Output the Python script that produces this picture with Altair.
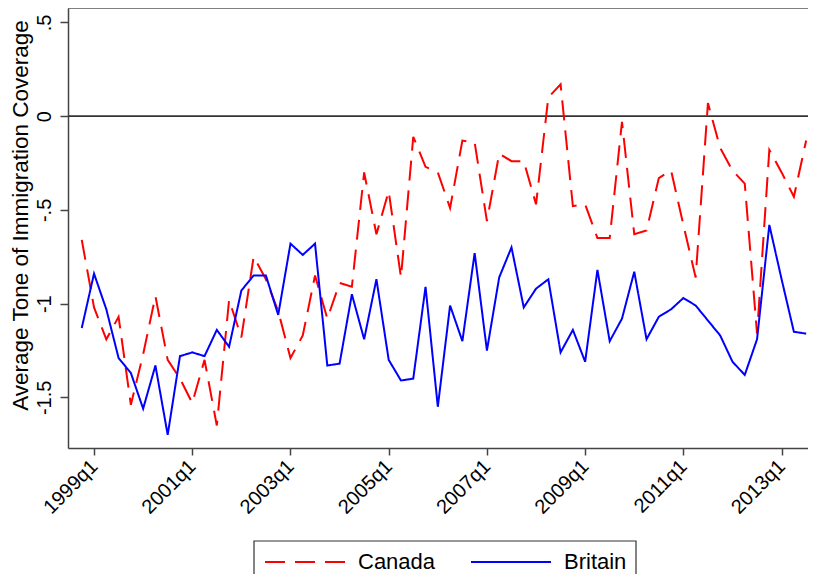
import altair as alt
import pandas as pd

# Quarterly series, 1998q4 .. 2013q3
start_year, start_q = 1998, 4
canada = [-0.66, -1.02, -1.19, -1.07, -1.54, -1.27, -0.96, -1.30, -1.40, -1.53,
          -1.30, -1.65, -0.98, -1.18, -0.75, -0.87, -1.04, -1.29, -1.17, -0.85,
          -1.08, -0.89, -0.91, -0.30, -0.63, -0.40, -0.86, -0.11, -0.27, -0.30,
          -0.49, -0.13, -0.14, -0.56, -0.20, -0.24, -0.24, -0.47, 0.10, 0.17,
          -0.48, -0.47, -0.65, -0.65, -0.03, -0.63, -0.61, -0.33, -0.29, -0.58,
          -0.86, 0.07, -0.17, -0.29, -0.36, -1.16, -0.18, -0.30, -0.43, -0.13]
britain = [-1.13, -0.84, -1.03, -1.29, -1.37, -1.56, -1.33, -1.70, -1.28, -1.26,
           -1.28, -1.14, -1.23, -0.93, -0.85, -0.85, -1.06, -0.68, -0.74, -0.68,
           -1.33, -1.32, -0.95, -1.19, -0.87, -1.30, -1.41, -1.40, -0.91, -1.55,
           -1.01, -1.20, -0.73, -1.25, -0.86, -0.70, -1.02, -0.92, -0.87, -1.26,
           -1.14, -1.31, -0.82, -1.20, -1.08, -0.83, -1.19, -1.07, -1.03, -0.97,
           -1.01, -1.09, -1.17, -1.31, -1.38, -1.19, -0.58, -0.87, -1.15, -1.16]
series_names = ["Canada", "Britain"]
series_colors = ["#ff0000", "#0000ff"]
series_dashes = [[20, 10], [1, 0]]

x_tick_values = [0, 8, 16, 24, 32, 40, 48, 56]
x_tick_labels = ["1999q1", "2001q1", "2003q1", "2005q1", "2007q1", "2009q1", "2011q1", "2013q1"]
y_tick_values = [-1.5, -1, -0.5, 0, 0.5]
y_tick_labels = ["-1.5", "-1", "-.5", "0", ".5"]
y_title = "Average Tone of Immigration Coverage"

rows = []
for i, (c, b) in enumerate(zip(canada, britain)):
    q_index = (start_q - 1) + i
    year = start_year + q_index // 4
    q = q_index % 4 + 1
    t = (year - 1999) * 4 + (q - 1)
    label = f"{year}q{q}"
    rows.append({"t": t, "quarter": label, "country": "Canada", "tone": c})
    rows.append({"t": t, "quarter": label, "country": "Britain", "tone": b})
df = pd.DataFrame(rows)


def label_expr(values, labels):
    expr = "''"
    for v, l in reversed(list(zip(values, labels))):
        expr = f"abs(datum.value - ({v})) < 1e-6 ? '{l}' : ({expr})"
    return expr


FONT = "Liberation Sans"
W, H = 740, 440

x_scale = alt.Scale(domain=[-2.12, 58.15], nice=False, zero=False)
y_scale = alt.Scale(domain=[-1.77, 0.577], nice=False, zero=False)

lines = alt.Chart(df).mark_line(strokeWidth=2, clip=True).encode(
    x=alt.X("t:Q", scale=x_scale, title=None,
            axis=alt.Axis(values=x_tick_values, labelExpr=label_expr(x_tick_values, x_tick_labels),
                          labelAngle=315, labelAlign="right", labelBaseline="middle",
                          labelPadding=8, tickSize=7, labelFontSize=20, labelFont=FONT,
                          labelColor="black", grid=False, domainColor="#444444",
                          tickColor="#444444", domainWidth=1.5, tickWidth=1.5,
                          labelOverlap=False)),
    y=alt.Y("tone:Q", scale=y_scale, title=y_title,
            axis=alt.Axis(values=y_tick_values, labelExpr=label_expr(y_tick_values, y_tick_labels),
                          labelAngle=270, labelAlign="center", labelBaseline="alphabetic",
                          labelPadding=10, tickSize=8, labelFontSize=20, labelFont=FONT,
                          labelColor="black", grid=False, domainColor="#444444",
                          tickColor="#444444", domainWidth=1.5, tickWidth=1.5,
                          titleAngle=270, titleX=-41, titleY=207, titleAlign="center",
                          titleBaseline="alphabetic", titleFontSize=22.5, titleFont=FONT,
                          titleFontWeight="normal", titleColor="black", labelOverlap=False)),
    color=alt.Color("country:N", scale=alt.Scale(domain=series_names, range=series_colors),
                    legend=alt.Legend(title=None)),
    strokeDash=alt.StrokeDash("country:N", scale=alt.Scale(domain=series_names, range=series_dashes),
                              legend=alt.Legend(title=None)),
)

zero_line = alt.Chart(pd.DataFrame({"y": [0]})).mark_rule(color="#333333", strokeWidth=1.6).encode(
    y=alt.Y("y:Q", scale=y_scale)
)

top_border = alt.Chart(pd.DataFrame({"y": [0]})).mark_rule(color="#555555", strokeWidth=1.5).encode(
    y=alt.value(0)
)

# legend frame (Stata-style box below the plot)
legend_box = alt.Chart(pd.DataFrame({"y": [0]})).mark_rect(
    fill="white", stroke="#333333", strokeWidth=1.2
).encode(x=alt.value(186), x2=alt.value(568), y=alt.value(533), y2=alt.value(620))

chart = alt.layer(legend_box, zero_line, top_border, lines).properties(
    width=W, height=H,
    autosize=alt.AutoSizeParams(type="none"),
    padding={"left": 60, "top": 0, "right": 0, "bottom": 126},
).configure(font=FONT).configure_view(stroke=None).configure_legend(
    orient="none", legendX=196, legendY=513, direction="horizontal",
    padding=0, symbolType="stroke", symbolSize=6400, symbolStrokeWidth=2,
    labelFont=FONT, labelFontSize=22, labelColor="black", labelOffset=12,
    columnPadding=31, labelLimit=200,
)

chart.save("out.html", embed_options={"renderer": "svg", "actions": False})
